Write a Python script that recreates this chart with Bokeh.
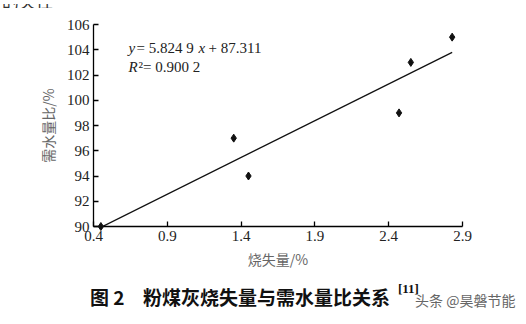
from bokeh.plotting import figure
from bokeh.models import Range1d, Label, FixedTicker, Div
from bokeh.layouts import column
from bokeh.embed import file_html
from bokeh.resources import INLINE

# data
loss_on_ignition = [0.45, 1.35, 1.45, 2.47, 2.55, 2.83]
water_demand_ratio = [90, 97, 94, 99, 103, 105]
slope = 5.8249
intercept = 87.311
r_squared = "0.900 2"
x_ticks = [0.4, 0.9, 1.4, 1.9, 2.4, 2.9]
y_ticks = [90, 92, 94, 96, 98, 100, 102, 104, 106]

x_label = "烧失量/%"
y_label = "需水量比/%"
caption_num = "图 2"
caption_text = "粉煤灰烧失量与需水量比关系"
caption_ref = "[11]"
watermark = "头条 @昊磐节能"
top_fragment = "的关性"

W = 526
TOP_H, MAIN_H, CAP_H = 8, 272, 44
serif = "Liberation Serif"
cjk = "Noto Sans CJK SC"


def span(left, top, text, font, size, weight="normal", color="#222222"):
    return (f'<span style="position:absolute;left:{left}px;top:{top}px;white-space:nowrap;'
            f'line-height:1;font-family:\'{font}\';font-size:{size}px;font-weight:{weight};'
            f'color:{color}">{text}</span>')


def strip(height, inner):
    html = (f'<div style="position:relative;width:{W}px;height:{height}px;overflow:hidden;'
            f'background:white;margin:0;padding:0">{inner}</div>')
    return Div(text=html, width=W, height=height, margin=0,
               styles={"overflow": "hidden", "background": "white"})


# ---- top strip (cut-off text from the page above)
top = strip(TOP_H, span(2, -12, top_fragment, cjk, 17, color="#333333"))

# ---- main chart
FL, FB = 93, 226  # frame left / bottom in page pixels

p = figure(width=W, height=MAIN_H, output_backend="svg", toolbar_location=None,
           x_range=Range1d(0.4, 2.9), y_range=Range1d(90, 106),
           min_border_left=93, min_border_right=64,
           min_border_top=24 - TOP_H, min_border_bottom=TOP_H + MAIN_H - 226,
           margin=0)
p.background_fill_color = "white"
p.border_fill_color = "white"
p.outline_line_color = None
p.grid.visible = False

for ax in (p.xaxis[0], p.yaxis[0]):
    ax.major_tick_in = 5
    ax.major_tick_out = 0
    ax.minor_tick_line_color = None
    ax.axis_line_color = "black"
    ax.axis_line_width = 1.3
    ax.major_tick_line_color = "black"
    ax.major_tick_line_width = 1.3
    ax.major_label_text_font = serif
    ax.major_label_text_font_size = "15px"
    ax.major_label_text_color = "#222222"
    ax.axis_label_text_font = cjk
    ax.axis_label_text_font_size = "14px"
    ax.axis_label_text_font_style = "normal"
    ax.axis_label_text_color = "#666666"

p.xaxis[0].ticker = FixedTicker(ticks=x_ticks)
p.yaxis[0].ticker = FixedTicker(ticks=y_ticks)
p.xaxis[0].major_label_overrides = {t: f"{t:.1f}" for t in x_ticks}
p.xaxis[0].axis_label = x_label
p.yaxis[0].axis_label = y_label
p.xaxis[0].major_label_standoff = 4
p.yaxis[0].major_label_standoff = 4
p.xaxis[0].axis_label_standoff = 5
p.yaxis[0].axis_label_standoff = 6

# regression line over the data span
x0, x1 = min(loss_on_ignition), max(loss_on_ignition)
p.line([x0, x1], [slope * x0 + intercept, slope * x1 + intercept],
       line_color="#111111", line_width=1.3)

r = p.scatter(loss_on_ignition, water_demand_ratio, marker="diamond", size=8,
              fill_color="#111111", line_color="#111111")
r.level = "overlay"


def lab(px, py, text, size="15px", style="normal"):
    # screen units are measured from the frame's bottom-left corner
    p.add_layout(Label(x=px - FL, y=FB - py, x_units="screen", y_units="screen", text=text,
                       text_font=serif, text_font_size=size, text_font_style=style,
                       text_color="#222222", text_baseline="bottom"))


lab(128, 55, "y", style="italic")
lab(136, 55, "= 5.824 9")
lab(198, 55, "x", style="italic")
lab(208, 55, "+ 87.311")
lab(128, 74, "R", style="italic")
lab(138, 74, "²= " + r_squared)

# ---- caption strip (positions are page pixels minus the strip's top)
oy = TOP_H + MAIN_H
cap_inner = (
    span(90, 297 - oy - 10, caption_num, cjk, 19, "bold", "#111111")
    + span(143, 297 - oy - 10, caption_text, cjk, 19, "bold", "#111111")
    + span(398, 289 - oy - 7, caption_ref, serif, 13, "bold", "#111111")
    + span(415, 300 - oy - 7, watermark, cjk, 14, "normal", "#666666")
)
cap = strip(CAP_H, cap_inner)

layout = column(top, p, cap, spacing=0, margin=0)
open("out.html", "w").write(file_html(layout, INLINE))
